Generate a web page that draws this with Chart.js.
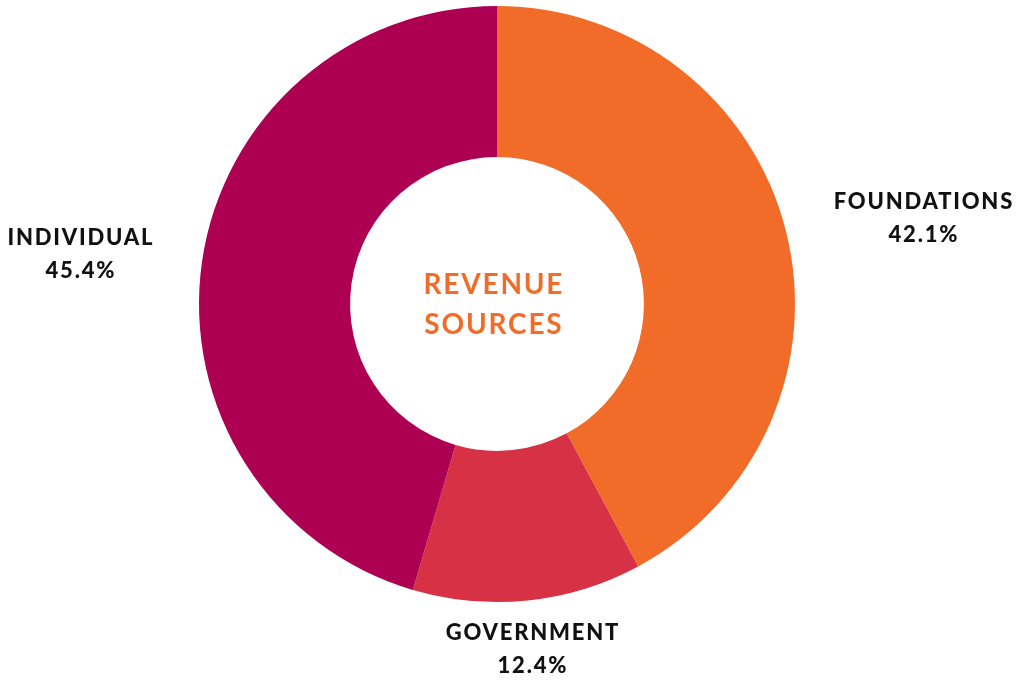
<!DOCTYPE html>
<html>
<head>
<meta charset="utf-8">
<script src="https://cdn.jsdelivr.net/npm/chart.js@4.4.0/dist/chart.umd.min.js"></script>
<style>
html, body { margin: 0; padding: 0; background: #fff; }
#wrap { width: 1018px; height: 681px; position: relative; }
</style>
</head>
<body>
<div id="wrap"><canvas id="revenue_chart"></canvas></div>
<script>
// revenue split
var labels = ["FOUNDATIONS", "GOVERNMENT", "INDIVIDUAL"];
var shares = [42.1, 12.4, 45.4];
var colors = ["#F26C29", "#D73145", "#AD0053"];

// where the outside labels sit (x, y of first line)
var label_spots = [[923, 202], [532, 633], [80, 238]];

// text with letter spacing, centred (canvas adds spacing after last glyph too)
function spacedText(ctx, txt, x, y, sp) {
	ctx.letterSpacing = sp + 'px';
	ctx.fillText(txt, x + sp / 2, y);
}

var outsideLabels = {
	id: 'outsideLabels',
	afterDraw: function(chart) {
		var ctx = chart.ctx;
		ctx.save();
		ctx.textAlign = 'center';
		ctx.textBaseline = 'middle';
		ctx.fillStyle = '#111';
		ctx.font = '900 22px Lato';
		for (var i = 0; i < labels.length; i++) {
			var p = label_spots[i];
			spacedText(ctx, labels[i], p[0], p[1], 1.8);
			spacedText(ctx, shares[i].toFixed(1) + '%', p[0], p[1] + 33, 1.8);
		}
		// center title
		var arc = chart.getDatasetMeta(0).data[0];
		ctx.fillStyle = '#F26C29';
		ctx.font = 'bold 28px Lato';
		spacedText(ctx, 'REVENUE', arc.x - 4, arc.y - 19, 1.8);
		spacedText(ctx, 'SOURCES', arc.x - 4, arc.y + 21, 1.8);
		ctx.restore();
	}
};

var ctx = document.getElementById("revenue_chart");
var revenue_chart = new Chart(ctx, {
	type: 'doughnut',
	data: {
		labels: labels,
		datasets: [{
			data: shares,
			backgroundColor: colors,
			borderWidth: 0
		}]
	},
	options: {
		responsive: true,
		maintainAspectRatio: false,
		animation: false,
		cutout: '49.3%',
		layout: { padding: { left: 199, right: 223, top: 6, bottom: 79 } },
		plugins: {
			legend: { display: false },
			tooltip: { enabled: false }
		}
	},
	plugins: [outsideLabels]
});
</script>
</body>
</html>
